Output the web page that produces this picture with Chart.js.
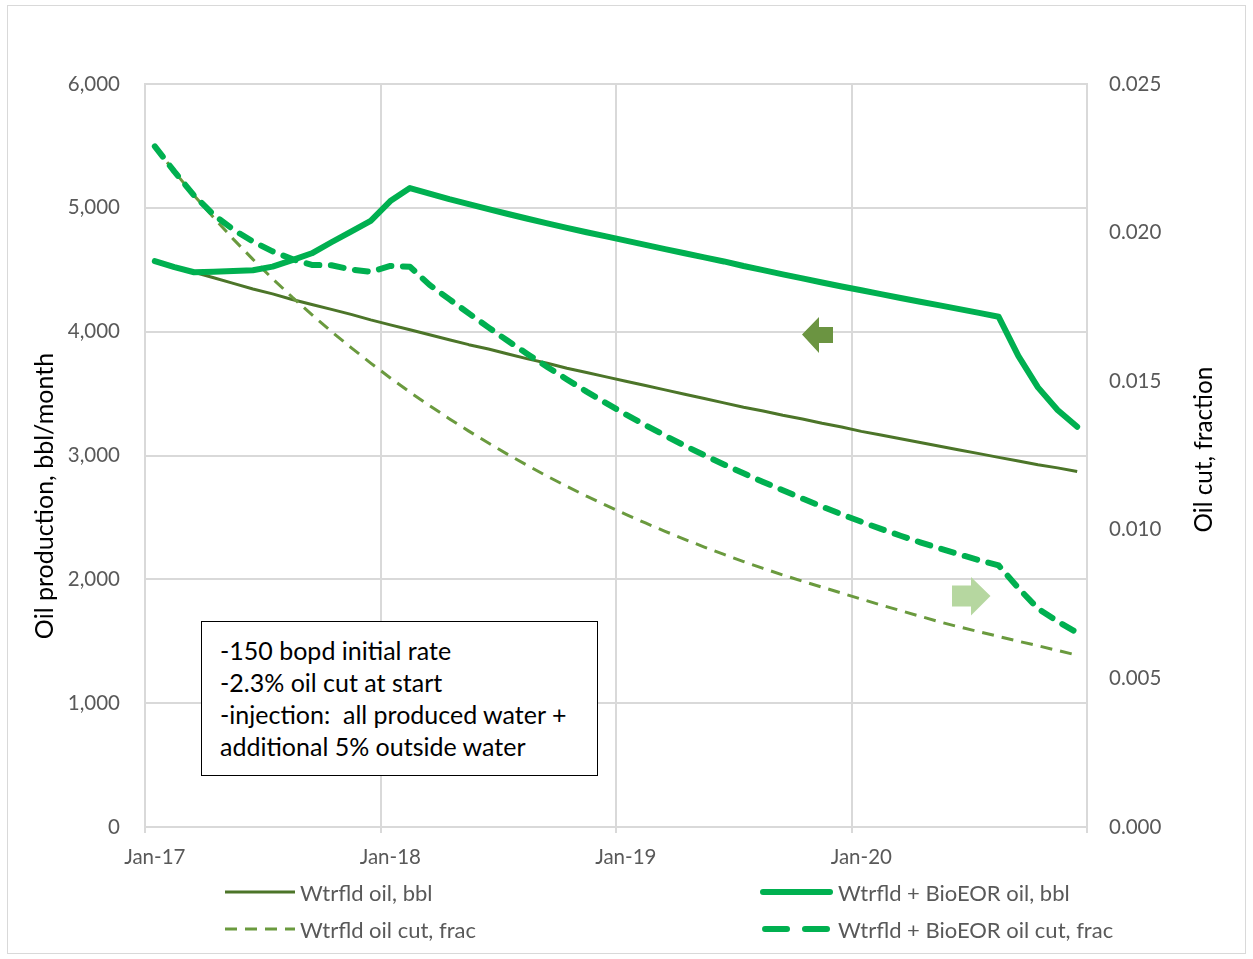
<!DOCTYPE html>
<html>
<head>
<meta charset="utf-8">
<script src="https://cdn.jsdelivr.net/npm/chart.js@4.4.1/dist/chart.umd.min.js"></script>
<style>
  html, body { margin: 0; padding: 0; background: #ffffff; }
  #wrap { position: relative; width: 1253px; height: 959px; overflow: hidden; background: #fff; }
  #frame { position: absolute; left: 7px; top: 5px; width: 1239px; height: 949px; border: 1px solid #d9d9d9; box-sizing: border-box; }
  canvas#c { position: absolute; left: 0; top: 0; }
  .ytitle { position: absolute; font-family: Lato, "Liberation Sans", sans-serif; color: #000; white-space: nowrap; transform-origin: center center; }
  #note { position: absolute; left: 201px; top: 621px; width: 397px; height: 155px; box-sizing: border-box; border: 1.5px solid #000; background: #fff;
          font-family: Lato, "Liberation Sans", sans-serif; font-size: 25px; line-height: 32px; color: #000; padding: 12px 0 0 18px; white-space: nowrap; }
  .leg { position: absolute; font-family: Lato, "Liberation Sans", sans-serif; font-size: 22px; color: #595959; white-space: nowrap; display: flex; align-items: center; }
  .leg svg { display: block; margin-right: 5px; }
  #arrows { position: absolute; left: 0; top: 0; }
</style>
</head>
<body>
<div id="wrap">
  <div id="frame"></div>
  <canvas id="c" width="1253" height="959"></canvas>
  <svg id="arrows" width="1253" height="959">
    <polygon points="802,334.5 819,317 819,327 833,327 833,343 819,343 819,353" fill="#6b9441"/>
    <polygon points="952,585.5 971,585.5 971,577 990.5,596 971,615.5 971,606.5 952,606.5" fill="#b6d7a0"/>
  </svg>
  <div class="ytitle" id="ytl" style="font-size:25px;">Oil production, bbl/month</div>
  <div class="ytitle" id="ytr" style="font-size:24.3px;">Oil cut, fraction</div>
  <div id="note">-150 bopd initial rate<br>-2.3% oil cut at start<br>-injection:&nbsp; all produced water +<br>additional 5% outside water</div>
  <div class="leg" style="left:225px; top:877px;"><svg width="70" height="30"><line x1="0" y1="15" x2="70" y2="15" stroke="#4c7529" stroke-width="3"/></svg>Wtrfld oil, bbl</div>
  <div class="leg" style="left:225px; top:914px;"><svg width="70" height="30"><line x1="0" y1="15" x2="70" y2="15" stroke="#6a9a3e" stroke-width="3" stroke-dasharray="12,8"/></svg>Wtrfld oil cut, frac</div>
  <div class="leg" style="left:760px; top:877px;"><svg width="73" height="30"><line x1="3" y1="15" x2="70" y2="15" stroke="#00b050" stroke-width="6" stroke-linecap="round"/></svg>Wtrfld + BioEOR oil, bbl</div>
  <div class="leg" style="left:760px; top:914px;"><svg width="73" height="30"><line x1="5" y1="15" x2="70" y2="15" stroke="#00b050" stroke-width="6" stroke-linecap="round" stroke-dasharray="22,18"/></svg>Wtrfld + BioEOR oil cut, frac</div>
</div>
<script>
// ---------------- data ----------------
const months = ['Jan-17','Feb-17','Mar-17','Apr-17','May-17','Jun-17','Jul-17','Aug-17','Sep-17','Oct-17','Nov-17','Dec-17',
                'Jan-18','Feb-18','Mar-18','Apr-18','May-18','Jun-18','Jul-18','Aug-18','Sep-18','Oct-18','Nov-18','Dec-18',
                'Jan-19','Feb-19','Mar-19','Apr-19','May-19','Jun-19','Jul-19','Aug-19','Sep-19','Oct-19','Nov-19','Dec-19',
                'Jan-20','Feb-20','Mar-20','Apr-20','May-20','Jun-20','Jul-20','Aug-20','Sep-20','Oct-20','Nov-20','Dec-20'];
const xTickLabels = ['Jan-17','Jan-18','Jan-19','Jan-20'];
const leftTicks = [0, 1000, 2000, 3000, 4000, 5000, 6000];
const rightTicks = [0.000, 0.005, 0.010, 0.015, 0.020, 0.025];

const wtrfldOil = [4570,4522,4480,4435,4390,4345,4305,4260,4220,4180,4140,4095,
                   4055,4015,3975,3935,3895,3860,3820,3780,3745,3705,3670,3635,
                   3600,3565,3530,3495,3460,3425,3390,3360,3325,3295,3260,3230,
                   3195,3165,3135,3105,3075,3045,3015,2985,2955,2925,2900,2870];
const bioOil = [4570,4522,4480,4484,4490,4496,4525,4578,4633,4722,4808,4895,
                5055,5160,5115,5070,5030,4990,4950,4912,4874,4838,4803,4769,
                4735,4701,4667,4633,4600,4567,4530,4497,4463,4430,4397,4365,
                4334,4303,4272,4242,4212,4182,4152,4120,3805,3550,3368,3232];
const wtrfldCut = [0.02290,0.02205,0.02125,0.02050,0.01978,0.01910,0.01845,0.01783,0.01724,0.01667,0.01613,0.01561,
                   0.01511,0.01463,0.01418,0.01374,0.01332,0.01292,0.01253,0.01216,0.01180,0.01146,0.01113,0.01082,
                   0.01052,0.01023,0.00995,0.00968,0.00942,0.00917,0.00893,0.00870,0.00848,0.00827,0.00807,0.00787,
                   0.00767,0.00747,0.00728,0.00709,0.00690,0.00673,0.00657,0.00641,0.00625,0.00610,0.00594,0.00578];
const bioCut = [0.02290,0.02205,0.02125,0.02060,0.02010,0.01970,0.01937,0.01911,0.01891,0.01890,0.01876,0.01868,
                0.01888,0.01885,0.01824,0.01776,0.01728,0.01681,0.01635,0.01591,0.01548,0.01506,0.01465,0.01426,
                0.01388,0.01352,0.01317,0.01283,0.01251,0.01220,0.01190,0.01161,0.01133,0.01105,0.01078,0.01052,
                0.01027,0.01003,0.00980,0.00958,0.00937,0.00917,0.00898,0.00880,0.00804,0.00735,0.00692,0.00654];

// ---------------- layout of overlay titles ----------------
function placeTitle(id, cx, cy) {
  const el = document.getElementById(id);
  const w = el.offsetWidth, h = el.offsetHeight;
  el.style.left = (cx - w / 2) + 'px';
  el.style.top = (cy - h / 2) + 'px';
  el.style.transform = 'rotate(-90deg)';
}

const GRID = '#d9d9d9';
const TICKFONT = { family: 'Lato, "Liberation Sans", sans-serif', size: 20.5 };

function draw() {
  placeTitle('ytl', 43, 496);
  placeTitle('ytr', 1203, 449);

  new Chart(document.getElementById('c'), {
    type: 'line',
    data: {
      labels: months,
      datasets: [
        { label: 'Wtrfld oil, bbl', data: wtrfldOil, yAxisID: 'y', borderColor: '#4c7529', borderWidth: 3,
          pointRadius: 0, tension: 0, borderJoinStyle: 'round', order: 3 },
        { label: 'Wtrfld oil cut, frac', data: wtrfldCut, yAxisID: 'y2', borderColor: '#6a9a3e', borderWidth: 3,
          borderDash: [12, 8], pointRadius: 0, tension: 0, borderJoinStyle: 'round', order: 2 },
        { label: 'Wtrfld + BioEOR oil, bbl', data: bioOil, yAxisID: 'y', borderColor: '#00b050', borderWidth: 6,
          pointRadius: 0, tension: 0, borderJoinStyle: 'round', borderCapStyle: 'round', order: 1 },
        { label: 'Wtrfld + BioEOR oil cut, frac', data: bioCut, yAxisID: 'y2', borderColor: '#00b050', borderWidth: 6,
          borderDash: [13, 11.5], borderCapStyle: 'round', pointRadius: 0, tension: 0, borderJoinStyle: 'round', order: 0 }
      ]
    },
    options: {
      responsive: false,
      devicePixelRatio: 1,
      animation: false,
      layout: { padding: { top: 84, left: 0, right: 0, bottom: 0 } },
      plugins: { legend: { display: false }, tooltip: { enabled: false } },
      scales: {
        x: {
          type: 'category',
          offset: true,
          grid: {
            offset: true,
            lineWidth: 2,
            tickLength: 6,
            color: (ctx) => (ctx.index === undefined || xTickLabels.includes(months[ctx.index])) ? GRID : 'rgba(0,0,0,0)'
          },
          border: { color: GRID, width: 2 },
          ticks: {
            autoSkip: false, maxRotation: 0, minRotation: 0, padding: 12,
            color: '#595959', font: TICKFONT,
            callback: (v, i) => xTickLabels.includes(months[i]) ? months[i] : ''
          },
          afterFit: (s) => { s.height = 959 - 827; }
        },
        y: {
          position: 'left', min: 0, max: 6000,
          afterBuildTicks: (s) => { s.ticks = leftTicks.map(v => ({ value: v })); },
          grid: { color: GRID, lineWidth: 2, drawTicks: false },
          border: { color: GRID, width: 2 },
          ticks: { padding: 25, color: '#595959', font: TICKFONT,
                   callback: (v) => v.toLocaleString('en-US') },
          afterFit: (s) => { s.width = 145; }
        },
        y2: {
          position: 'right', min: 0, max: 0.025,
          afterBuildTicks: (s) => { s.ticks = rightTicks.map(v => ({ value: v })); },
          grid: { drawOnChartArea: false, drawTicks: false },
          border: { color: GRID, width: 2 },
          ticks: { padding: 22, color: '#595959', font: TICKFONT,
                   callback: (v) => Number(v).toFixed(3) },
          afterFit: (s) => { s.width = 1253 - 1087; }
        }
      }
    }
  });
}
if (document.fonts && document.fonts.ready) { document.fonts.load('20px Lato').then(draw, draw); } else { draw(); }
</script>
</body>
</html>
